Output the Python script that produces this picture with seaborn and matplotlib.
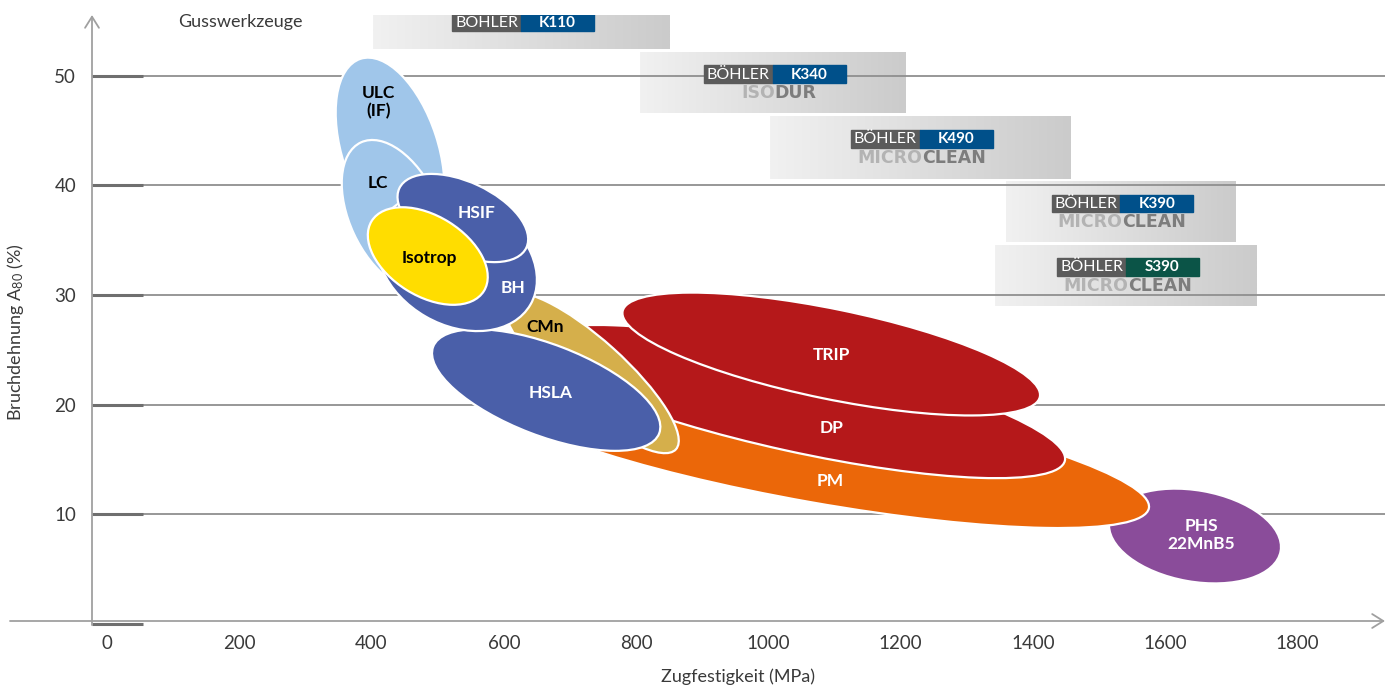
import numpy as np
import matplotlib
matplotlib.use("Agg")
import matplotlib.pyplot as plt
import seaborn as sns
from matplotlib.patches import Ellipse, Rectangle
from matplotlib.transforms import Affine2D
from matplotlib.colors import LinearSegmentedColormap

# Steel grade regions, listed back to front (drawing order).
grades = ["PHS", "PM", "DP", "TRIP", "CMn", "HSLA", "ULC", "LC", "BH", "HSIF", "Isotrop"]
centre_mpa = [1645, 1078, 1042, 1095, 732, 664, 428, 435, 529, 538, 485]
centre_pct = [7.99, 15.84, 20.27, 24.61, 22.88, 21.32, 43.24, 37.31, 33.01, 37.03, 33.56]
# ellipse axes, given in MPa-equivalent length (so the shape is not skewed by the axis ratio)
span_long = [263, 1010, 832, 644, 345, 366, 290, 242, 257, 212, 200]
span_short = [138, 160, 151, 136, 100, 138, 145, 136, 190, 109, 121]
tilt = [-10, -10, -12.4, -11.6, -42, -21, -72, -65, -30, -25, -32]
fill = ["#8a4c9a", "#eb6709", "#b5181a", "#b5181a", "#d5af4b", "#4a5fa9",
        "#a0c6ea", "#a0c6ea", "#4a5fa9", "#4a5fa9", "#ffdd00"]

label_text = ["PHS\n22MnB5", "PM", "DP", "TRIP", "CMn", "HSLA", "ULC\n(IF)", "LC", "BH", "HSIF", "Isotrop"]
label_mpa = [1654, 1093, 1096, 1095, 662, 671, 410, 410, 614, 558, 488]
label_pct = [8.08, 13.02, 17.86, 24.52, 27.08, 21.05, 47.62, 40.23, 30.64, 37.51, 33.38]
label_colour = ["white", "white", "white", "white", "black", "white",
                "black", "black", "white", "white", "black"]

# Tool steel boxes
tools = ["K110", "K340", "K490", "K390", "S390"]
brand_a = ["", "ISO", "MICRO", "MICRO", "MICRO"]
brand_b = ["", "DUR", "CLEAN", "CLEAN", "CLEAN"]
box_mpa_lo = [402, 806, 1002, 1359, 1343]
box_mpa_hi = [850, 1207, 1456, 1706, 1739]
box_pct_lo = [52.47, 46.6, 40.6, 34.8, 29.0]
box_pct_hi = [57.4, 52.1, 46.3, 40.3, 34.5]
tool_colour = ["#00508a", "#00508a", "#00508a", "#00508a", "#0b5447"]

x_ticks = [0, 200, 400, 600, 800, 1000, 1200, 1400, 1600, 1800]
y_ticks = [10, 20, 30, 40, 50]

sns.set_theme(style="white")
plt.rcParams['font.family'] = ['Lato', 'DejaVu Sans']
plt.rcParams['mathtext.default'] = 'regular'

W, H = 1396, 689
fig = plt.figure(figsize=(W / 100, H / 100), dpi=100)
ax = fig.add_axes([92 / W, (H - 621) / H, 1293 / W, 606 / H])
xmin, xmax = -22.7, 1932.3
ymin, ymax = 0.23, 55.57

# gradient boxes for the tool steels
grad = LinearSegmentedColormap.from_list("grad", ["#f1f1f1", "#cbcbcb"])
ramp = np.linspace(0, 1, 256)[None, :]
for i in range(len(tools)):
    ax.imshow(ramp, extent=[box_mpa_lo[i], box_mpa_hi[i], box_pct_lo[i], box_pct_hi[i]],
              cmap=grad, aspect="auto", zorder=1)

# grid lines and the short darker tick bars
ax.hlines(y_ticks, xmin, xmax, color="#8f8f8f", lw=1.3, zorder=2)
ax.hlines([0] + y_ticks, xmin, 54, color="#6f6f6f", lw=2.2, zorder=2, clip_on=False)

ax.set_xlim(xmin, xmax)
ax.set_ylim(ymin, ymax)

# scale so ellipses keep their drawn shape
px_mpa = 1293 / (xmax - xmin)
px_pct = 606 / (ymax - ymin)
k = px_pct / px_mpa
ell_tf = Affine2D().scale(1, 1 / k) + ax.transData

for i in range(len(grades)):
    e = Ellipse((centre_mpa[i], centre_pct[i] * k), span_long[i], span_short[i], angle=tilt[i],
                facecolor=fill[i], edgecolor="white", lw=1.6, transform=ell_tf, zorder=4 + i * 0.1)
    ax.add_patch(e)
    ax.text(label_mpa[i], label_pct[i], label_text[i], color=label_colour[i], fontsize=12.5,
            fontweight="bold", ha="center", va="center", linespacing=1.15, zorder=6)

# badges
grey_w, blue_w, badge_h = 104, 110.4, 1.6
for i in range(len(tools)):
    cx = (box_mpa_lo[i] + box_mpa_hi[i]) / 2 + 3
    cy = (box_pct_lo[i] + box_pct_hi[i]) / 2
    by = cy if brand_a[i] == "" else cy + 0.82
    left = cx - (grey_w + blue_w) / 2
    ax.add_patch(Rectangle((left, by - badge_h / 2), grey_w, badge_h, color="#5b5b5b", zorder=3))
    ax.add_patch(Rectangle((left + grey_w, by - badge_h / 2), blue_w, badge_h,
                           color=tool_colour[i], zorder=3))
    ax.text(left + grey_w / 2, by - 0.05, "BÖHLER", color="white", fontsize=11.5,
            ha="center", va="center", zorder=3.5)
    ax.text(left + grey_w + blue_w / 2, by - 0.05, tools[i], color="white", fontsize=11,
            fontweight="bold", ha="center", va="center", zorder=3.5)
    if brand_a[i]:
        ty = cy - 0.9
        ax.text(cx, ty, brand_a[i], color="#b3b3b3", fontsize=12.5, fontweight="bold",
                family="DejaVu Sans", ha="right", va="center", zorder=3.5)
        ax.text(cx, ty, brand_b[i], color="#7d7d7d", fontsize=12.5, fontweight="bold",
                family="DejaVu Sans", ha="left", va="center", zorder=3.5)

ax.text(201, 54.93, "Gusswerkzeuge", fontsize=13, color="#3a3a3a", ha="center", va="center")

# axes with open arrow heads
for s in ax.spines.values():
    s.set_visible(False)
arrow = dict(arrowstyle="->,head_length=0.4,head_width=0.25", color="#a0a0a0", lw=1.3,
             mutation_scale=20, shrinkA=0, shrinkB=0)
ax.annotate("", xy=(xmax, ymin), xytext=(-146.7, ymin), arrowprops=arrow, annotation_clip=False)
ax.annotate("", xy=(xmin, ymax), xytext=(xmin, -0.14), arrowprops=arrow, annotation_clip=False)

ax.set_xticks(x_ticks)
ax.set_xticklabels([str(v) for v in x_ticks])
ax.set_yticks(y_ticks)
ax.set_yticklabels([str(v) for v in y_ticks])
ax.tick_params(axis="both", length=0, labelsize=13.5, labelcolor="#3a3a3a")
ax.tick_params(axis="x", pad=10)
ax.tick_params(axis="y", pad=11.5)
ax.grid(False)

ax.set_xlabel("Zugfestigkeit (MPa)", fontsize=13, color="#3a3a3a")
ax.set_ylabel("Bruchdehnung A$_{80}$ (%)", fontsize=13, color="#3a3a3a")
ax.xaxis.set_label_coords(0.4996, -0.0776)
ax.yaxis.set_label_coords(-0.051, 0.477)

fig.savefig("out.png", dpi=100)
